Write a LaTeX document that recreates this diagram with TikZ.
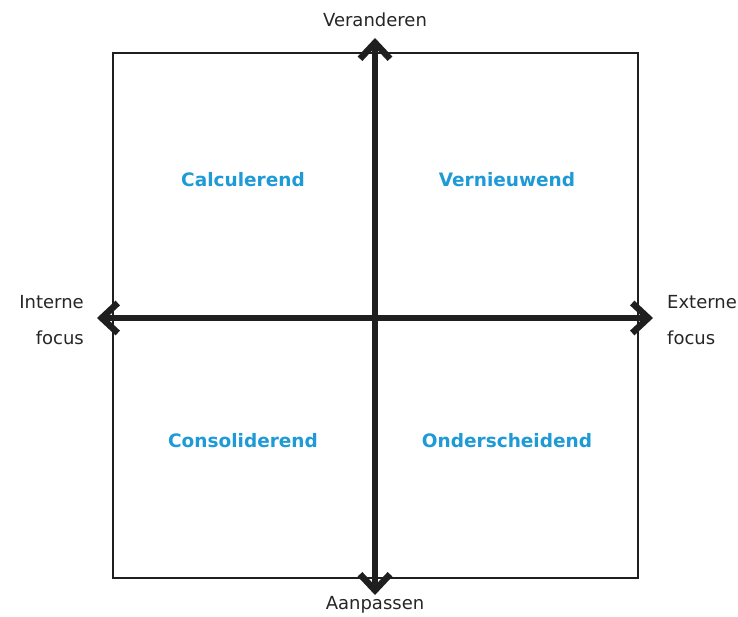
\documentclass[tikz,border=0pt]{standalone}
\usepackage{fontspec}
\setmainfont{DejaVu Sans}
\usetikzlibrary{arrows.meta}
\definecolor{quadblue}{RGB}{30,154,214}
\tikzset{
	barb/.tip={Straight Barb[length=16pt,width=30pt,line width=6.5pt,line join=miter,line cap=butt]},
	axis/.style={line width=6pt, draw=black!88, barb-barb},
	quad/.style={text=quadblue, font=\fontsize{18.5}{22}\selectfont\bfseries},
	lbl/.style={font=\fontsize{18}{22}\selectfont, text=black!85, inner sep=0pt}
}
\begin{document}
\begin{tikzpicture}[x=1pt,y=-1pt]
		\useasboundingbox (0,0) rectangle (738,616);
		\draw[line width=1.4pt, black!88] (113,53) rectangle (638,578);
		\coordinate (top) at (375,38);
		\coordinate (bot) at (375,595);
		\coordinate (left) at (97,318);
		\coordinate (right) at (653,318);
		\draw[axis] (bot) -- (top);
		\draw[axis] (left) -- (right);
		\node[lbl] (up) at (375,20) {Veranderen};
		\node[lbl] (down) at (375,605) {Aanpassen};
		\node[lbl, align=right, anchor=east] (intern) at (84,320) {Interne\\[14pt]focus};
		\node[lbl, align=left, anchor=west] (extern) at (667,320) {Externe\\[14pt]focus};
		\node[quad] (calc) at (243,180) {Calculerend};
		\node[quad] (vern) at (507,180) {Vernieuwend};
		\node[quad] (cons) at (243,441) {Consoliderend};
		\node[quad] (onder) at (507,441) {Onderscheidend};
	\end{tikzpicture}
\end{document}
